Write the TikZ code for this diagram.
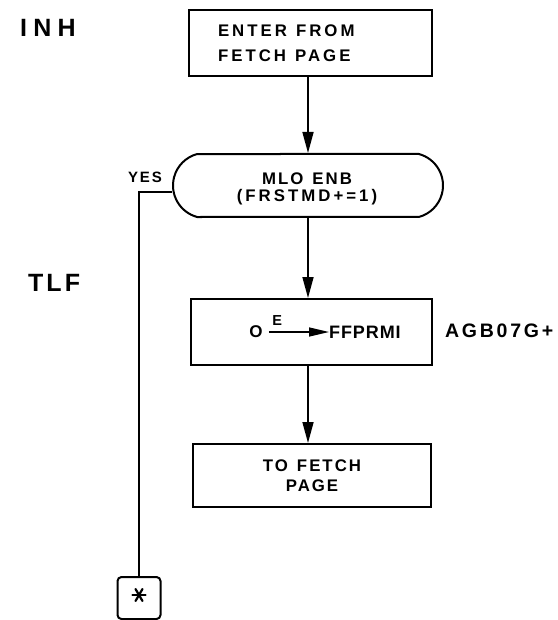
\documentclass[tikz,border=0pt]{standalone}
\usepackage{fontspec}
\newfontfamily\lfa[LetterSpace=12]{Liberation Sans}
\newfontfamily\lfb[LetterSpace=18]{Liberation Sans}
\newfontfamily\lfc[LetterSpace=5]{Liberation Sans}
\newfontfamily\lfd[LetterSpace=14]{Liberation Sans}
\newfontfamily\lfe[LetterSpace=25]{Liberation Sans}
\newcommand\wgap{\hspace{9pt}}
\usetikzlibrary{arrows.meta,shapes.misc}
\begin{document}
\begin{tikzpicture}[x=1pt,y=-1pt,
  box/.style={draw, line width=2pt, rectangle, inner sep=0pt},
  conn/.style={line width=1.6pt},
  arr/.style={conn, -{Triangle[length=21pt,width=11pt]}},
  sarr/.style={line width=1.4pt, -{Triangle[length=20pt,width=9pt]}},
  starline/.style={line width=2.2pt, line cap=round}
]
\useasboundingbox (0,0) rectangle (557,620);
\fill[white] (0,0) rectangle (557,620);

% side labels
\node[font=\lfe\bfseries\fontsize{25pt}{30pt}\selectfont, inner sep=0pt, anchor=west] (inh) at (20,28) {INH};
\node[font=\lfa\bfseries\fontsize{25pt}{30pt}\selectfont, inner sep=0pt, anchor=west] (tlf) at (28,283) {TLF};

% boxes
\node[box, font=\lfb\bfseries\fontsize{16.8pt}{25pt}\selectfont, minimum width=243pt, minimum height=66pt,
      text width=185pt, align=left] (b1) at (310.5,43) {ENTER\wgap FROM\\FETCH\wgap PAGE};
\node[rounded rectangle, rounded rectangle arc length=150, draw, line width=2pt, inner sep=0pt,
      minimum width=270pt, minimum height=63pt] (dec) at (308,185.5) {};
\node[align=center, inner sep=0pt, font=\bfseries\fontsize{16.8pt}{16.5pt}\selectfont] (dectext) at (307,189)
      {{\lfa MLO\wgap ENB}\\{\lfb (FRSTMD+=1)}};
\node[box, minimum width=241pt, minimum height=66pt] (b3) at (311,332) {};
\node[box, minimum width=238pt, minimum height=63pt, align=center,
      font=\lfa\bfseries\fontsize{16.8pt}{20pt}\selectfont] (b4) at (312,475.5) {TO\wgap FETCH\\PAGE};

% contents of box 3
\node[font=\lfc\bfseries\fontsize{17pt}{18pt}\selectfont, inner sep=0pt] (zero) at (256,332) {O};
\node[font=\lfc\bfseries\fontsize{18pt}{20pt}\selectfont, inner sep=0pt, anchor=west] (ffp) at (329,332) {FFPRMI};
\draw[sarr] ([xshift=6pt]zero.east) -- (ffp.west)
   node[pos=0.14, above=6pt, inner sep=0pt, font=\lfc\bfseries\fontsize{14.5pt}{16pt}\selectfont] (e) {E};
\node[font=\lfd\bfseries\fontsize{19.5pt}{22pt}\selectfont, anchor=west, inner sep=0pt] (agb) at (445,331) {AGB07G+};

% YES label and exit
\node[font=\lfa\bfseries\fontsize{15pt}{16pt}\selectfont, inner sep=0pt] (yes) at (145,177) {YES};
\node[draw, line width=2pt, rounded corners=4pt, minimum width=43pt, minimum height=42pt, inner sep=0pt] (star) at (139,598) {};
\coordinate (sc) at (139,595);
\draw[starline] ([shift={(-6.5,0)}]sc) -- ([shift={(6.5,0)}]sc);
\draw[starline] ([shift={(-3.5,-6)}]sc) -- ([shift={(3.5,6)}]sc);
\draw[starline] ([shift={(3.5,-6)}]sc) -- ([shift={(-3.5,6)}]sc);
\coordinate (yc) at (139,192);

% connectors
\draw[arr] (dec.north |- b1.south) -- (dec.north);
\draw[arr] (dec.south) -- (dec.south |- b3.north);
\draw[arr] (dec.south |- b3.south) -- (dec.south |- b4.north);
\draw[conn] (dec.west |- yc) -- (yc) -- (star.north);
\end{tikzpicture}
\end{document}
